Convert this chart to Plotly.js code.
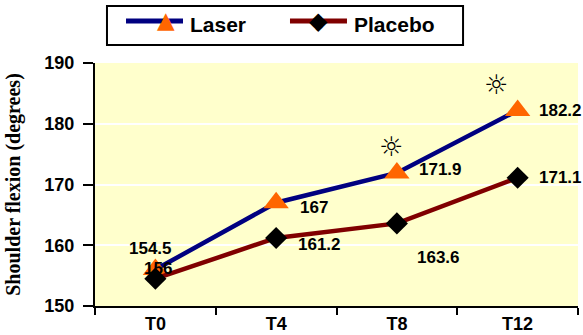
<!DOCTYPE html>
<html><head><meta charset="utf-8">
<script src="https://cdn.plot.ly/plotly-3.0.1.min.js"></script>
<style>body{margin:0;padding:0;background:#fff}#chart{width:583px;height:335px}</style>
</head><body><div id="chart"></div>
<script>
const categories = ["T0", "T4", "T8", "T12"];
const laser = [156, 167, 171.9, 182.2];
const placebo = [154.5, 161.2, 163.6, 171.1];
const laserLabels = ["156", "167", "171.9", "182.2"];
const placeboLabels = ["154.5", "161.2", "163.6", "171.1"];
const significant = [false, false, true, true];
const seriesNames = ["Laser", "Placebo"];

const F = "Liberation Sans, Arial, sans-serif";
const laserColor = "#000080", placeboColor = "#800000";
const traces = [
  {x: categories, y: laser, name: seriesNames[0], type: "scatter", mode: "lines+markers",
   line: {color: laserColor, width: 4.5},
   marker: {symbol: "triangle-up", size: 22, color: "#FF6600"}},
  {x: categories, y: placebo, name: seriesNames[1], type: "scatter", mode: "lines+markers",
   line: {color: placeboColor, width: 4.5},
   marker: {symbol: "diamond", size: 17, color: "#000000"}}
];
const ann = [];
const lOff = [[3, 1], [38, -5], [44, 3], [43, 0]];
const pOff = [[-5, 30], [43, -7], [42, -34], [43, 0]];
const sunOff = [[0, 0], [0, 0], [-6, 26], [-22, 26]];
const lf = {family: F, size: 17, color: "#000", weight: "bold"};
categories.forEach((c, i) => {
  ann.push({x: c, y: laser[i], text: laserLabels[i], showarrow: false,
    xshift: lOff[i][0], yshift: lOff[i][1], font: lf});
  ann.push({x: c, y: placebo[i], text: placeboLabels[i], showarrow: false,
    xshift: pOff[i][0], yshift: pOff[i][1], font: lf});
  if (significant[i]) {
    ann.push({x: c, y: laser[i], text: "☼", showarrow: false, xshift: sunOff[i][0], yshift: sunOff[i][1],
      font: {family: "DejaVu Sans", size: 27, color: "#000", weight: "bold"}});
  }
});

// custom legend box (paper coordinates)
const legY = 1.1728;
const shapes = [
  {type: "rect", xref: "paper", yref: "paper", x0: 0.0248, x1: 0.762, y0: 1.074, y1: 1.2346,
   line: {color: "#000", width: 2}, fillcolor: "#fff", layer: "above"},
  {type: "line", xref: "paper", yref: "paper", x0: 0.0642, x1: 0.1822, y0: legY, y1: legY,
   line: {color: laserColor, width: 5}, layer: "above"},
  {type: "line", xref: "paper", yref: "paper", x0: 0.4037, x1: 0.5217, y0: legY, y1: legY,
   line: {color: placeboColor, width: 5}, layer: "above"}
];
const lgf = {family: F, size: 21, color: "#000", weight: "bold"};
ann.push({xref: "paper", yref: "paper", x: 0.1232, y: legY, text: "▲", showarrow: false,
  yanchor: "middle", yshift: 1, font: {family: "DejaVu Sans", size: 23, color: "#FF6600"}});
ann.push({xref: "paper", yref: "paper", x: 0.4627, y: legY, text: "◆", showarrow: false,
  yanchor: "middle", yshift: 0, font: {family: "DejaVu Sans", size: 24, color: "#000"}});
ann.push({xref: "paper", yref: "paper", x: 0.1925, y: 1.1564, xanchor: "left", yanchor: "middle",
  text: seriesNames[0], showarrow: false, font: lgf});
ann.push({xref: "paper", yref: "paper", x: 0.5321, y: 1.1564, xanchor: "left", yanchor: "middle",
  text: seriesNames[1], showarrow: false, font: lgf});

const layout = {
  width: 583, height: 335,
  margin: {l: 95, r: 5, t: 63, b: 29},
  paper_bgcolor: "#ffffff", plot_bgcolor: "#FFFFCC",
  showlegend: false,
  xaxis: {type: "category", tickson: "boundaries", ticks: "outside", ticklen: 7, tickwidth: 2,
    tickcolor: "#000", showline: true, linecolor: "#000", linewidth: 2, showgrid: false,
    range: [-0.5, 3.5], zeroline: false,
    tickfont: {family: F, size: 18, color: "#000", weight: "bold"}},
  yaxis: {range: [150, 190], dtick: 10, ticks: "outside", ticklen: 10, tickwidth: 2, tickcolor: "#000",
    showline: true, linecolor: "#000", linewidth: 2, gridcolor: "#ffffff", gridwidth: 2, zeroline: false,
    ticklabelstandoff: 5,
    tickfont: {family: F, size: 18, color: "#000", weight: "bold"},
    title: {text: "Shoulder flexion (degrees)", standoff: 18,
      font: {family: "Liberation Serif, Times New Roman, serif", size: 20, color: "#000", weight: "bold"}}},
  shapes: shapes,
  annotations: ann
};
Plotly.newPlot("chart", traces, layout, {displayModeBar: false, staticPlot: true});
</script></body></html>
